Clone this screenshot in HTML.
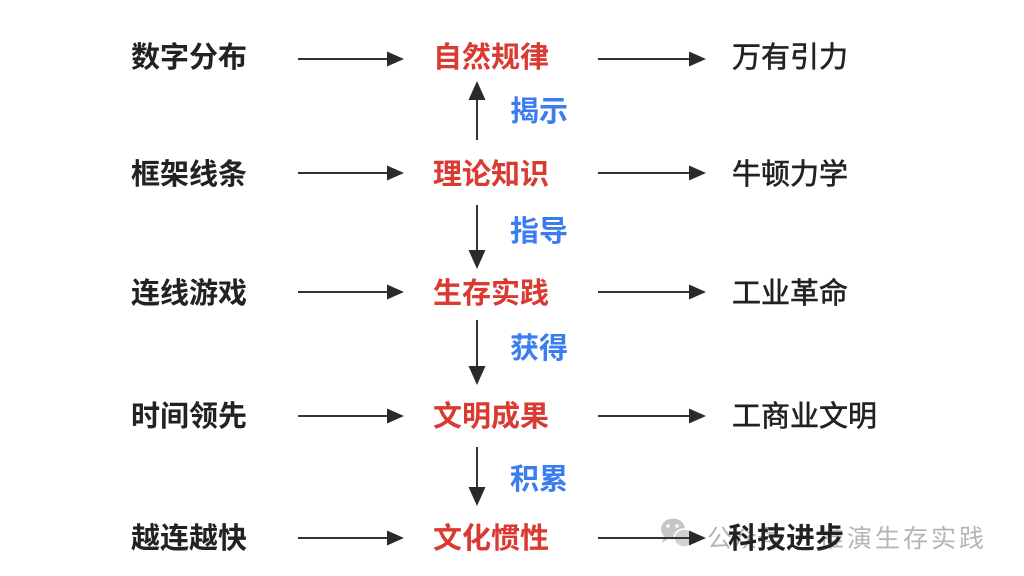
<!DOCTYPE html>
<html><head><meta charset="utf-8"><style>
html,body{margin:0;padding:0;background:#fff;}
svg{display:block;}
text{font-family:"Liberation Sans","Noto Sans CJK SC",sans-serif;}
</style></head><body>
<svg width="1024" height="576" viewBox="0 0 1024 576" xmlns="http://www.w3.org/2000/svg">
<rect width="1024" height="576" fill="#fff"/>
<!-- watermark -->
<g fill="#bdbdbd" opacity="0.85">
  <ellipse cx="673" cy="529" rx="12" ry="10.5"/>
  <polygon points="664,536 662,543 670,538"/>
  <ellipse cx="684" cy="538" rx="10" ry="9" fill="#c9c9c9" stroke="#fff" stroke-width="1.5"/>
  <circle cx="668" cy="526" r="1.8" fill="#fff"/>
  <circle cx="677" cy="526" r="1.8" fill="#fff"/>
</g>
<g font-size="25" fill="#b5b5b5">
  <text x="707" y="547">公众号</text>
  <text x="796" y="547">·</text>
  <text x="819" y="547" letter-spacing="3">推演生存实践</text>
</g>
<!-- horizontal arrows -->
<g stroke="#333" stroke-width="2" fill="none">
  <line x1="298" y1="59" x2="390" y2="59"/>
  <line x1="598" y1="59" x2="692" y2="59"/>
  <line x1="298" y1="173" x2="390" y2="173"/>
  <line x1="598" y1="173" x2="692" y2="173"/>
  <line x1="298" y1="292" x2="390" y2="292"/>
  <line x1="598" y1="292" x2="692" y2="292"/>
  <line x1="298" y1="416" x2="390" y2="416"/>
  <line x1="598" y1="416" x2="692" y2="416"/>
  <line x1="298" y1="538" x2="390" y2="538"/>
  <line x1="598" y1="538" x2="692" y2="538"/>
  <!-- vertical -->
  <line x1="477" y1="140" x2="477" y2="96"/>
  <line x1="477" y1="205" x2="477" y2="254"/>
  <line x1="477" y1="320" x2="477" y2="370"/>
  <line x1="477" y1="447" x2="477" y2="491"/>
</g>
<g fill="#2a2a2a">
  <polygon points="404,59 387,51.5 387,66.5"/>
  <polygon points="706,59 689,51.5 689,66.5"/>
  <polygon points="404,173 387,165.5 387,180.5"/>
  <polygon points="706,173 689,165.5 689,180.5"/>
  <polygon points="404,292 387,284.5 387,299.5"/>
  <polygon points="706,292 689,284.5 689,299.5"/>
  <polygon points="404,416 387,408.5 387,423.5"/>
  <polygon points="706,416 689,408.5 689,423.5"/>
  <polygon points="404,538 387,530.5 387,545.5"/>
  <polygon points="706,538 689,530.5 689,545.5"/>
  <polygon points="477,81 468.5,100 485.5,100"/>
  <polygon points="477,269 468.5,250 485.5,250"/>
  <polygon points="477,385 468.5,366 485.5,366"/>
  <polygon points="477,506 468.5,487 485.5,487"/>
</g>
<!-- left column -->
<g font-size="29" font-weight="700" fill="#222">
  <text x="131" y="67">数字分布</text>
  <text x="131" y="184">框架线条</text>
  <text x="131" y="303">连线游戏</text>
  <text x="131" y="426">时间领先</text>
  <text x="131" y="548">越连越快</text>
</g>
<!-- middle column -->
<g font-size="29" font-weight="700" fill="#d93a31">
  <text x="433" y="67">自然规律</text>
  <text x="433" y="184">理论知识</text>
  <text x="433" y="303">生存实践</text>
  <text x="433" y="426">文明成果</text>
  <text x="433" y="548">文化惯性</text>
</g>
<!-- right column -->
<g font-size="29" font-weight="400" fill="#222" stroke="#222" stroke-width="0.6">
  <text x="732" y="67">万有引力</text>
  <text x="732" y="184">牛顿力学</text>
  <text x="732" y="303">工业革命</text>
  <text x="732" y="426">工商业文明</text>
</g>
<text x="728" y="548" font-size="29" font-weight="700" fill="#222">科技进步</text>
<!-- blue labels -->
<g font-size="29" font-weight="700" fill="#3b7df0">
  <text x="510" y="121">揭示</text>
  <text x="510" y="241">指导</text>
  <text x="510" y="358">获得</text>
  <text x="510" y="489">积累</text>
</g>
</svg>
</body></html>
